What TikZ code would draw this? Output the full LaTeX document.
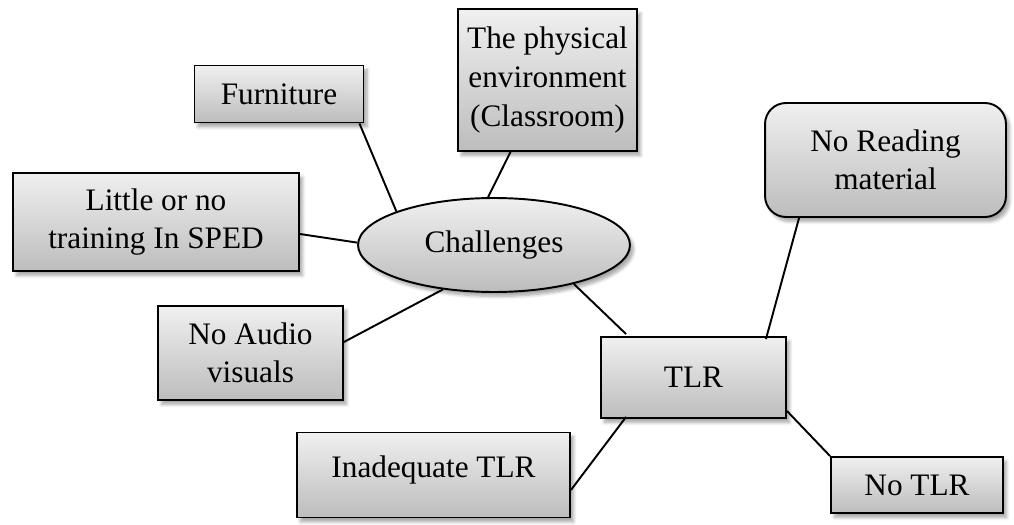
\documentclass[tikz,border=0pt]{standalone}
\usepackage{fontspec}
\setmainfont{Liberation Serif}
\usetikzlibrary{calc,shadows.blur,shapes.geometric}
\begin{document}
\begin{tikzpicture}[x=0.02cm,y=-0.02cm,
  every node/.style={font=\fontsize{17.8pt}{21.5pt}\selectfont, align=center, inner sep=0pt},
  box/.style={draw=black, line width=1.1pt, top color=black!6, bottom color=black!26,
    blur shadow={shadow xshift=2pt, shadow yshift=-2.5pt, shadow blur steps=6, shadow opacity=35}},
  link/.style={draw=black, line width=1.1pt}]
\useasboundingbox (0,0) rectangle (1014,524);

% Boxes
\node[box, minimum width=3.38cm, minimum height=1.14cm] (furn) at (279,94) {Furniture};
\node[box, minimum width=3.58cm, minimum height=2.84cm,
  font=\fontsize{17.8pt}{22.2pt}\selectfont] (phys) at (547.5,80) {The physical\\environment\\(Classroom)};
\node[box, minimum width=5.72cm, minimum height=1.96cm] (sped) at (156,222) {Little or no\\training In SPED};
\node[box, ellipse, minimum width=5.44cm, minimum height=1.88cm] (chal) at (494,245) {Challenges};
\node[box, minimum width=3.70cm, minimum height=1.88cm] (audio) at (250.5,353) {No Audio\\visuals};
\node[box, minimum width=3.70cm, minimum height=1.62cm] (tlr) at (693.5,377.5) {TLR};
\node[box, rounded corners=0.42cm, minimum width=4.82cm, minimum height=2.28cm] (noread) at (885.5,160) {No Reading\\material};
\node[box, minimum width=5.46cm, minimum height=1.70cm, text height=0.88cm, text depth=0.80cm] (inad) at (433.5,475) {Inadequate TLR};
\node[box, minimum width=3.44cm, minimum height=1.12cm] (notlr) at (917,485) {No TLR};

% Connectors
\draw[link] ($(furn.south east)+(-5,0)$) -- (chal.161);
\draw[link] ($(phys.south)+(-37,0)$) -- (chal.97);
\draw[link] ($(sped.east)+(0,12)$) -- (chal.179);
\draw[link] ($(audio.east)+(0,-11)$) -- (chal.221);
\draw[link] (chal.-26) -- ($(tlr.north west)+(26,-2)$);
\draw[link] ($(tlr.north east)+(-21,3)$) -- ($(noread.south west)+(35,0)$);
\draw[link] ($(tlr.south west)+(26,-2)$) -- ($(inad.east)+(0,15)$);
\draw[link] ($(tlr.south east)+(0,-8)$) -- (notlr.north west);
\end{tikzpicture}
\end{document}
